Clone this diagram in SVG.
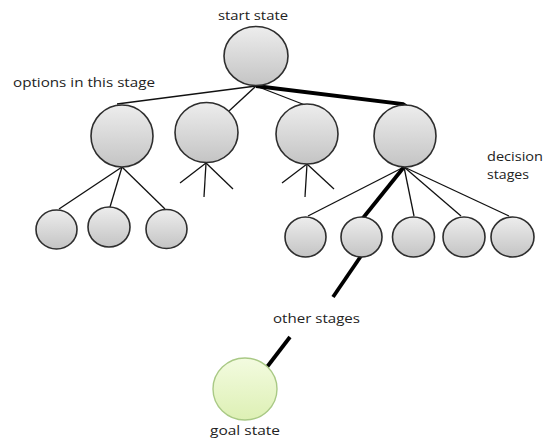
<svg xmlns="http://www.w3.org/2000/svg" width="547" height="439" viewBox="0 0 547 439">
<defs>
<linearGradient id="g" x1="0" y1="0" x2="0" y2="1">
<stop offset="0" stop-color="#ededed"/>
<stop offset="1" stop-color="#c4c4c4"/>
</linearGradient>
<linearGradient id="gg" x1="0" y1="0" x2="0" y2="1">
<stop offset="0" stop-color="#f3fbe0"/>
<stop offset="1" stop-color="#ddf0b4"/>
</linearGradient>
</defs>
<style>
.n{fill:url(#g);stroke:#2e2e2e;stroke-width:1.6}
.goal{fill:url(#gg);stroke:#a9c985;stroke-width:1.4}
.t{stroke:#111;stroke-width:1.3;fill:none}
.k{stroke:#000;stroke-width:3.8;fill:none;stroke-linecap:butt}
text{font-family:"Open Sans","Liberation Sans",Arial,sans-serif;font-size:13.5px;fill:#222}
</style>
<rect width="547" height="439" fill="#fff"/>
<g id="connectors">
<line class="t" x1="256" y1="86" x2="117" y2="104"/>
<line class="t" x1="256" y1="86" x2="229" y2="111"/>
<line class="t" x1="256" y1="86" x2="305" y2="105"/>
<polyline class="k" points="256,86 403,104 406,106"/>
<line class="t" x1="122" y1="167" x2="59" y2="209"/>
<line class="t" x1="122" y1="167" x2="110" y2="207"/>
<line class="t" x1="122" y1="167" x2="165" y2="209"/>
<line class="t" x1="206" y1="163" x2="180" y2="183"/>
<line class="t" x1="206" y1="163" x2="204" y2="197"/>
<line class="t" x1="206" y1="163" x2="233" y2="189"/>
<line class="t" x1="307" y1="164" x2="282" y2="183"/>
<line class="t" x1="307" y1="164" x2="305" y2="197"/>
<line class="t" x1="307" y1="164" x2="334" y2="189"/>
<line class="t" x1="404" y1="167" x2="308" y2="216"/>
<line class="k" x1="404" y1="167" x2="363" y2="218"/>
<line class="t" x1="404" y1="167" x2="414" y2="216"/>
<line class="t" x1="404" y1="167" x2="461" y2="216"/>
<line class="t" x1="404" y1="167" x2="509" y2="216"/>
<line class="k" x1="361" y1="256" x2="333" y2="297"/>
<line class="k" x1="290" y1="337" x2="267" y2="367"/>
</g>
<g id="start"><ellipse class="n" cx="256" cy="56" rx="32" ry="29.5"/><text x="253" y="20" text-anchor="middle" textLength="70" lengthAdjust="spacingAndGlyphs">start state</text></g>
<g id="label-options"><text x="13" y="87" textLength="142" lengthAdjust="spacingAndGlyphs">options in this stage</text></g>
<g id="o1"><ellipse class="n" cx="122" cy="136" rx="31" ry="31"/></g>
<g id="o2"><ellipse class="n" cx="206.5" cy="132.5" rx="31.5" ry="30"/></g>
<g id="o3"><ellipse class="n" cx="307" cy="134" rx="31" ry="30"/></g>
<g id="o4"><ellipse class="n" cx="405" cy="136" rx="31" ry="31"/></g>
<g id="l1"><ellipse class="n" cx="56.5" cy="229.5" rx="20.5" ry="19.5"/></g>
<g id="l2"><ellipse class="n" cx="109" cy="227" rx="21" ry="20"/></g>
<g id="l3"><ellipse class="n" cx="166.5" cy="229" rx="20.5" ry="19.5"/></g>
<g id="r1"><ellipse class="n" cx="305.5" cy="237" rx="20.5" ry="20"/></g>
<g id="r2"><ellipse class="n" cx="361.5" cy="237" rx="20.5" ry="20"/></g>
<g id="r3"><ellipse class="n" cx="413.5" cy="237" rx="21" ry="20"/></g>
<g id="r4"><ellipse class="n" cx="464" cy="237" rx="21" ry="20"/></g>
<g id="r5"><ellipse class="n" cx="512.5" cy="237" rx="21.5" ry="20"/></g>
<g id="label-decision"><text x="487" y="161" textLength="56" lengthAdjust="spacingAndGlyphs">decision</text><text x="487" y="179" textLength="42" lengthAdjust="spacingAndGlyphs">stages</text></g>
<g id="label-other"><text x="273" y="323" textLength="87" lengthAdjust="spacingAndGlyphs">other stages</text></g>
<g id="goal"><ellipse class="goal" cx="245" cy="389" rx="32" ry="31"/><text x="245" y="435" text-anchor="middle" textLength="70" lengthAdjust="spacingAndGlyphs">goal state</text></g>
</svg>
